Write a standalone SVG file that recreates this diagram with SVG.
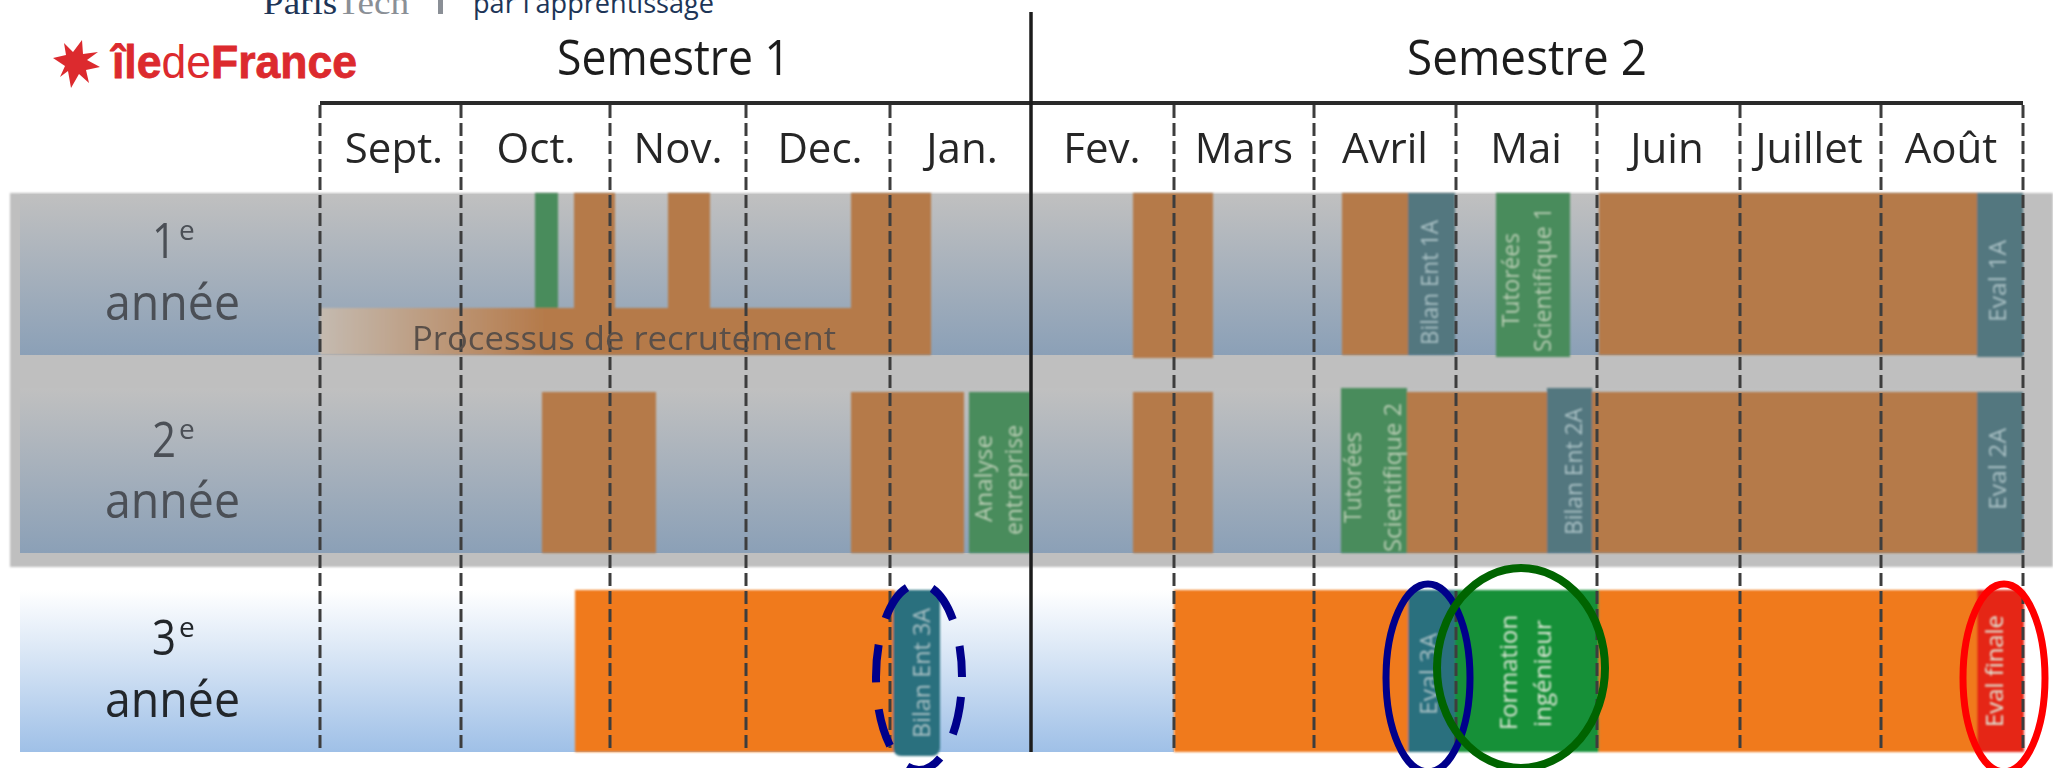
<svg xmlns="http://www.w3.org/2000/svg" width="2053" height="768" viewBox="0 0 2053 768">
<style>
text{font-family:"Open Sans","Noto Sans","Liberation Sans",sans-serif}
.h{font-size:50px;fill:#1f1f1f}
.m{font-size:42px;fill:#262626}
.y{font-size:50px;fill:#4b5056}
.y3{font-size:50px;fill:#23272c}
.s{font-size:28px}
.v{font-size:23px;fill:#b9cdb4}
.vt{font-size:23px;fill:#a9c0c4}
.vw{font-size:23px;fill:#dfe8d8}
.br{fill:#b57a4a}.gr{fill:#498c5c}.te{fill:#52777f}.or{fill:#f07a1c}
.d{stroke:#3c3c3c;stroke-width:3;stroke-dasharray:13 5;fill:none}
.el{fill:none}
</style>
<defs>
<linearGradient id="gA" x1="0" y1="0" x2="0" y2="1"><stop offset="0" stop-color="#c0c0c0"/><stop offset="1" stop-color="#8ba0b7"/></linearGradient>
<linearGradient id="gB" x1="0" y1="0" x2="0" y2="1"><stop offset="0" stop-color="#ffffff"/><stop offset="1" stop-color="#9fc0e7"/></linearGradient>
<linearGradient id="gF" x1="320" y1="0" x2="545" y2="0" gradientUnits="userSpaceOnUse"><stop offset="0" stop-color="#c4bab0"/><stop offset="1" stop-color="#b57a4a"/></linearGradient>
<filter id="soft" x="-5%" y="-5%" width="110%" height="110%"><feGaussianBlur stdDeviation="1"/></filter>
<filter id="softer" x="-5%" y="-5%" width="110%" height="110%"><feGaussianBlur stdDeviation="0.7"/></filter>
</defs>
<rect width="2053" height="768" fill="#fff"/>
<g id="header-partner">
<text x="263" y="14" font-size="34" style="font-family:'Liberation Serif',serif" fill="#1d3557" textLength="146" lengthAdjust="spacingAndGlyphs">Paris<tspan fill="#8a8f96">Tech</tspan></text>
<rect x="438" y="0" width="5" height="14" fill="#8a8f96"/>
<text x="473" y="13" font-size="28" fill="#1d3557" textLength="241" lengthAdjust="spacingAndGlyphs">par l'apprentissage</text>
</g>
<g id="logo">
<polygon fill="#dc2a2e" points="82,40 83,54 98,52 87,60 100,67 86,70 89,83 79,74 71,88 68,71 60,77 65,66 53,58 66,55 64,43 73,52"/>
<text x="112" y="78" font-size="46" font-weight="700" fill="#dc2a2e" stroke="#dc2a2e" stroke-width="0.8" style="font-family:'Liberation Sans',sans-serif" textLength="245" lengthAdjust="spacingAndGlyphs">île<tspan font-weight="400" stroke="none">de</tspan>France</text>
</g>
<g id="background" filter="url(#soft)">
<rect x="10" y="193" width="2043" height="374" fill="#bfbfbf"/>
</g>
<g id="row-1">
<rect x="20" y="194" width="2004" height="161" fill="url(#gA)"/>
<g filter="url(#soft)">
<rect class="gr" x="535" y="193" width="23" height="160"/>
<rect class="br" x="574" y="193" width="41" height="115"/>
<rect class="br" x="668" y="193" width="42" height="115"/>
<rect class="br" x="851" y="193" width="80" height="162"/>
<rect fill="url(#gF)" x="320" y="308" width="531" height="47"/>
<rect class="br" x="1133" y="193" width="80" height="165"/>
<rect class="br" x="1342" y="193" width="113" height="162"/>
<rect class="te" x="1408" y="193" width="47" height="162"/>
<rect class="gr" x="1496" y="193" width="74" height="164"/>
<rect class="br" x="1599" y="193" width="378" height="162"/>
<rect class="te" x="1977" y="193" width="46" height="164"/>
</g>
</g>
<g id="row-2">
<rect x="20" y="388" width="2004" height="165" fill="url(#gA)"/>
<g filter="url(#soft)">
<rect class="br" x="542" y="392" width="114" height="161"/>
<rect class="br" x="851" y="392" width="113" height="161"/>
<rect class="gr" x="969" y="392" width="62" height="161"/>
<rect class="br" x="1133" y="392" width="80" height="161"/>
<rect class="br" x="1407" y="392" width="570" height="161"/>
<rect class="gr" x="1341" y="388" width="66" height="165"/>
<rect class="te" x="1547" y="388" width="45" height="165"/>
<rect class="te" x="1977" y="392" width="46" height="161"/>
</g>
</g>
<g id="row-3">
<rect x="20" y="590" width="1154" height="162" fill="url(#gB)"/>
<g filter="url(#soft)">
<rect class="or" x="575" y="590" width="320" height="162"/>
<rect class="or" x="1174" y="590" width="850" height="162"/>
<rect fill="#2c6f7e" x="893" y="590" width="47" height="166" rx="8"/>
<rect fill="#2c6f7e" x="1408" y="590" width="47" height="162"/>
<rect fill="#139039" x="1455" y="590" width="144" height="162"/>
<rect fill="#e52518" x="1977" y="590" width="47" height="162"/>
</g>
</g>
<g id="connectors">
<path stroke="#2a2a2a" stroke-width="4" fill="none" d="M320 103H2023"/>
<path stroke="#1c1c1c" stroke-width="3.5" fill="none" d="M1031 12V752"/>
<path class="d" filter="url(#softer)" d="M320 105V752M461 105V752M610 105V752M746 105V752M890 105V752M1174 105V752M1314 105V752M1456 105V752M1597 105V752M1740 105V752M1881 105V752M2023 105V752"/>
</g>
<g id="titles" filter="url(#softer)">
<text class="h" x="557" y="75" textLength="233" lengthAdjust="spacingAndGlyphs">Semestre 1</text>
<text class="h" x="1407" y="75" textLength="240" lengthAdjust="spacingAndGlyphs">Semestre 2</text>
</g>
<g id="months" text-anchor="middle" filter="url(#softer)">
<text class="m" x="394" y="163">Sept.</text>
<text class="m" x="536" y="163">Oct.</text>
<text class="m" x="678" y="163">Nov.</text>
<text class="m" x="820" y="163">Dec.</text>
<text class="m" x="962" y="163">Jan.</text>
<text class="m" x="1102" y="163">Fev.</text>
<text class="m" x="1244" y="163">Mars</text>
<text class="m" x="1385" y="163">Avril</text>
<text class="m" x="1526" y="163">Mai</text>
<text class="m" x="1667" y="163">Juin</text>
<text class="m" x="1809" y="163">Juillet</text>
<text class="m" x="1951" y="163">Août</text>
</g>
<g id="label-1" filter="url(#softer)"><text class="y" x="152" y="258" textLength="24" lengthAdjust="spacingAndGlyphs">1</text><text class="y s" x="179" y="240">e</text><text class="y" x="105" y="320" textLength="135" lengthAdjust="spacingAndGlyphs">année</text></g>
<g id="label-2" filter="url(#softer)"><text class="y" x="152" y="457" textLength="24" lengthAdjust="spacingAndGlyphs">2</text><text class="y s" x="179" y="439">e</text><text class="y" x="105" y="518" textLength="135" lengthAdjust="spacingAndGlyphs">année</text></g>
<g id="label-3" filter="url(#softer)"><text class="y3" x="152" y="655" textLength="24" lengthAdjust="spacingAndGlyphs">3</text><text class="y3 s" x="179" y="637">e</text><text class="y3" x="105" y="717" textLength="135" lengthAdjust="spacingAndGlyphs">année</text></g>
<text x="412" y="350" font-size="33" fill="#5a5048" textLength="424" lengthAdjust="spacingAndGlyphs" filter="url(#softer)">Processus de recrutement</text>
<g id="bar-labels" text-anchor="start" filter="url(#soft)">
<text class="vt" transform="translate(1438 345) rotate(-90)" textLength="125" lengthAdjust="spacingAndGlyphs">Bilan Ent 1A</text>
<text class="v" transform="translate(1519 327) rotate(-90)" textLength="94" lengthAdjust="spacingAndGlyphs">Tutorées</text>
<text class="v" transform="translate(1551 352) rotate(-90)" textLength="145" lengthAdjust="spacingAndGlyphs">Scientifique 1</text>
<text class="vt" transform="translate(2006 322) rotate(-90)" textLength="82" lengthAdjust="spacingAndGlyphs">Eval 1A</text>
<text class="v" transform="translate(992 522) rotate(-90)" textLength="87" lengthAdjust="spacingAndGlyphs">Analyse</text>
<text class="v" transform="translate(1022 535) rotate(-90)" textLength="110" lengthAdjust="spacingAndGlyphs">entreprise</text>
<text class="v" transform="translate(1361 523) rotate(-90)" textLength="91" lengthAdjust="spacingAndGlyphs">Tutorées</text>
<text class="v" transform="translate(1401 552) rotate(-90)" textLength="149" lengthAdjust="spacingAndGlyphs">Scientifique 2</text>
<text class="vt" transform="translate(1582 535) rotate(-90)" textLength="127" lengthAdjust="spacingAndGlyphs">Bilan Ent 2A</text>
<text class="vt" transform="translate(2006 510) rotate(-90)" textLength="82" lengthAdjust="spacingAndGlyphs">Eval 2A</text>
<text class="vt" transform="translate(930 738) rotate(-90)" textLength="130" lengthAdjust="spacingAndGlyphs">Bilan Ent 3A</text>
<text class="vt" transform="translate(1437 715) rotate(-90)" textLength="82" lengthAdjust="spacingAndGlyphs">Eval 3A</text>
<text class="vw" transform="translate(1517 730) rotate(-90)" textLength="115" lengthAdjust="spacingAndGlyphs">Formation</text>
<text class="vw" transform="translate(1551 727) rotate(-90)" textLength="107" lengthAdjust="spacingAndGlyphs">ingénieur</text>
<text class="vw" transform="translate(2003 727) rotate(-90)" textLength="112" lengthAdjust="spacingAndGlyphs">Eval finale</text>
</g>
<g id="highlights">
<ellipse class="el" cx="919" cy="677" rx="43" ry="93" stroke="#00008b" stroke-width="8" stroke-dasharray="38 27" stroke-dashoffset="45"/>
<ellipse class="el" cx="1428" cy="678" rx="42" ry="94" stroke="#00008b" stroke-width="7"/>
<ellipse class="el" cx="1521" cy="668" rx="84" ry="100" stroke="#006400" stroke-width="8"/>
<ellipse class="el" cx="2004" cy="678" rx="41" ry="94" stroke="#ff0000" stroke-width="7"/>
</g>
</svg>
